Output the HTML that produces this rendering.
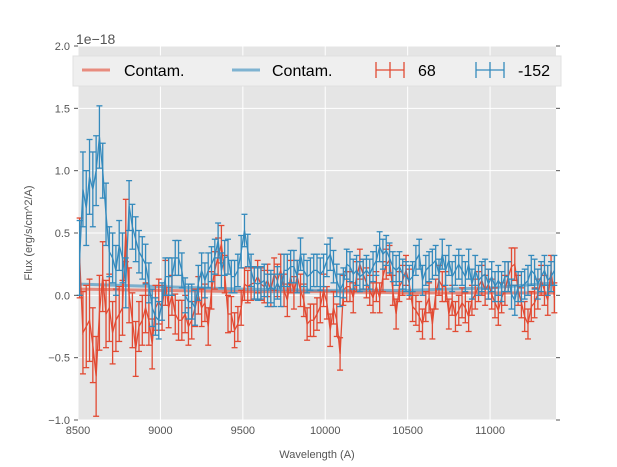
<!DOCTYPE html>
<html><head><meta charset="utf-8">
<style>
body{margin:0;background:#fff;}
svg{display:block;font-family:"Liberation Sans",sans-serif;}
</style></head>
<body>
<svg id="chart" width="617" height="467" viewBox="0 0 617 467">
  <rect x="78" y="46" width="478" height="374" fill="#e5e5e5"/>
  <g id="grid"></g>
  <g id="series"></g>
  <g id="axes"></g>
  <text x="76" y="44" font-size="14" fill="#555">1e−18</text>
  <text x="317" y="458" font-size="11" fill="#555" text-anchor="middle">Wavelength (A)</text>
  <text transform="translate(32,233) rotate(-90)" font-size="11" fill="#555" text-anchor="middle">Flux (erg/s/cm^2/A)</text>
  <g>
    <rect x="73" y="56" width="488" height="30" fill="#efefef" stroke="#e0e0e0"/>
    <g>
      <line x1="82" y1="70" x2="110" y2="70" stroke="#E24A33" stroke-opacity="0.6" stroke-width="3"/>
      <text x="124" y="76" font-size="16" fill="#000">Contam.</text>
    </g>
    <g>
      <line x1="232" y1="70" x2="260" y2="70" stroke="#348ABD" stroke-opacity="0.6" stroke-width="3"/>
      <text x="272" y="76" font-size="16" fill="#000">Contam.</text>
    </g>
    <g stroke="#E24A33" stroke-width="1.3">
      <line x1="376" y1="70" x2="404" y2="70"/><line x1="390" y1="62" x2="390" y2="78"/>
      <line x1="376" y1="62" x2="376" y2="78"/><line x1="404" y1="62" x2="404" y2="78"/>
      <text x="418" y="76" font-size="16" fill="#000" stroke="none">68</text>
    </g>
    <g stroke="#348ABD" stroke-width="1.3">
      <line x1="476" y1="70" x2="504" y2="70"/><line x1="490" y1="62" x2="490" y2="78"/>
      <line x1="476" y1="62" x2="476" y2="78"/><line x1="504" y1="62" x2="504" y2="78"/>
      <text x="518" y="76" font-size="16" fill="#000" stroke="none">-152</text>
    </g>
  </g>
</svg>
<script>
const xTicks=[8500,9000,9500,10000,10500,11000];
const yTicks=[-1.0,-0.5,0.0,0.5,1.0,1.5,2.0];
const yTickLabels=["−1.0","−0.5","0.0","0.5","1.0","1.5","2.0"];
const wlStart=8510, wlStep=20;
const flux68=[0.3,-0.3,-0.25,-0.2,-0.4,-0.65,-0.14,0.15,-0.15,-0.1,-0.3,-0.2,-0.15,-0.1,0.52,0.0,-0.2,-0.43,-0.25,-0.2,-0.1,-0.2,-0.39,-0.1,-0.05,-0.1,0.1,-0.1,0.0,-0.15,-0.2,-0.2,-0.15,-0.25,-0.2,-0.1,0.0,-0.1,
-0.06,-0.25,0.04,0.2,0.31,0.41,0.17,-0.15,-0.15,-0.28,-0.23,-0.1,0.09,0.07,0.09,0.1,0.15,0.09,0.07,0.12,0.04,0.17,0.12,0.2,0.04,-0.04,0.15,0.02,0.15,0.04,-0.04,-0.23,-0.2,-0.2,-0.15,-0.09,0.04,-0.06,-0.28,-0.1,
-0.2,-0.47,0.04,0.07,0.07,-0.02,0.15,0.25,0.17,0.1,0.04,-0.02,0.07,-0.02,0.15,0.25,0.28,0.04,-0.15,0.07,0.12,0.2,0.09,-0.09,-0.12,-0.17,-0.23,-0.09,-0.02,-0.23,0.01,0.12,0.07,0.07,-0.15,-0.04,-0.17,-0.12,-0.06,-0.1,
-0.17,-0.04,0.01,0.07,0.12,0.04,0.09,0.01,-0.06,-0.12,-0.02,0.04,0.15,0.23,0.25,0.04,-0.06,-0.17,-0.23,-0.09,-0.06,0.01,0.12,0.04,-0.04,0.2,-0.02];
const err68=[0.32,0.33,0.33,0.33,0.3,0.32,0.3,0.28,0.27,0.27,0.25,0.25,0.22,0.22,0.25,0.22,0.22,0.22,0.2,0.2,0.2,0.2,0.2,0.18,0.18,0.18,0.18,0.16,0.16,0.16,0.16,0.16,0.15,0.15,0.15,0.15,0.15,0.15,
0.15,0.15,0.15,0.15,0.15,0.15,0.15,0.15,0.14,0.14,0.14,0.14,0.13,0.13,0.13,0.13,0.13,0.13,0.13,0.13,0.13,0.13,0.13,0.13,0.13,0.13,0.13,0.13,0.13,0.13,0.13,0.13,0.13,0.13,0.13,0.13,0.13,0.13,0.13,0.13,
0.13,0.13,0.12,0.12,0.12,0.12,0.12,0.12,0.12,0.12,0.12,0.12,0.12,0.12,0.12,0.12,0.12,0.12,0.12,0.12,0.12,0.12,0.12,0.12,0.12,0.12,0.12,0.12,0.12,0.12,0.12,0.12,0.12,0.12,0.12,0.12,0.12,0.12,0.12,0.12,
0.12,0.12,0.12,0.12,0.12,0.12,0.12,0.12,0.12,0.12,0.12,0.12,0.12,0.15,0.13,0.12,0.12,0.12,0.12,0.12,0.12,0.12,0.12,0.12,0.12,0.12,0.12];
const flux152=[0.3,0.85,0.7,0.95,0.85,1.0,1.27,1.0,0.65,0.35,0.3,0.2,0.4,0.3,0.1,0.72,0.55,0.45,0.35,0.3,0.25,0.1,-0.1,-0.17,-0.2,-0.05,0.15,0.15,0.15,0.3,0.3,0.2,0.0,-0.05,-0.05,-0.1,0.1,0.2,
0.12,0.2,0.25,0.31,0.44,0.2,0.3,0.31,0.15,0.15,0.2,0.35,0.52,0.36,0.2,0.1,0.09,0.1,0.12,0.04,0.07,0.04,0.1,0.04,0.2,0.2,0.23,0.23,0.15,0.33,0.2,0.15,0.17,0.2,0.2,0.17,0.2,0.28,0.33,0.23,
0.12,0.04,0.1,0.25,0.23,0.17,0.2,0.15,0.17,0.2,0.17,0.23,0.28,0.39,0.33,0.36,0.3,0.23,0.2,0.23,0.17,0.15,0.12,0.15,0.28,0.33,0.12,0.2,0.23,0.25,0.28,0.17,0.33,0.2,0.28,0.15,0.2,0.25,0.2,0.15,
0.25,0.09,0.2,0.12,0.15,0.17,0.09,0.15,0.07,0.12,0.07,0.15,0.15,0.01,-0.04,0.07,0.07,0.09,0.12,0.2,0.17,0.09,0.15,0.2,0.12,0.15,0.2];
const err152=[0.3,0.3,0.3,0.3,0.3,0.28,0.25,0.22,0.25,0.2,0.2,0.2,0.2,0.2,0.2,0.2,0.18,0.18,0.17,0.17,0.16,0.16,0.15,0.15,0.15,0.15,0.15,0.15,0.15,0.14,0.14,0.14,0.14,0.14,0.14,0.14,0.14,0.14,
0.14,0.14,0.14,0.14,0.14,0.14,0.14,0.14,0.13,0.13,0.13,0.13,0.13,0.13,0.13,0.13,0.13,0.13,0.13,0.13,0.13,0.13,0.13,0.13,0.13,0.13,0.13,0.13,0.13,0.13,0.13,0.13,0.13,0.13,0.13,0.13,0.13,0.13,0.13,0.13,
0.13,0.13,0.12,0.12,0.12,0.12,0.12,0.12,0.12,0.12,0.12,0.12,0.12,0.12,0.12,0.12,0.12,0.12,0.12,0.12,0.12,0.12,0.12,0.12,0.12,0.12,0.12,0.12,0.12,0.12,0.12,0.12,0.12,0.12,0.12,0.12,0.12,0.12,0.12,0.12,
0.12,0.12,0.12,0.12,0.12,0.12,0.12,0.12,0.12,0.12,0.12,0.12,0.12,0.12,0.12,0.12,0.12,0.12,0.12,0.12,0.12,0.12,0.12,0.12,0.12,0.12,0.12];
const contamWl=[8510,9000,9500,10000,10500,11000,11390];
const contam68=[0.05,0.04,0.03,0.03,0.02,0.02,0.02];
const contam152=[0.09,0.07,0.05,0.04,0.04,0.06,0.1];

const NS="http://www.w3.org/2000/svg";
const X0=78,X1=556,Y0=46,Y1=420,xmin=8500,xmax=11400,ymin=-1,ymax=2;
const xs=v=>X0+(v-xmin)/(xmax-xmin)*(X1-X0);
const ys=v=>Y1-(v-ymin)/(ymax-ymin)*(Y1-Y0);
function mk(tag,attrs,parent){const e=document.createElementNS(NS,tag);for(const k in attrs)e.setAttribute(k,attrs[k]);parent.appendChild(e);return e;}
const grid=document.getElementById('grid'),axes=document.getElementById('axes'),ser=document.getElementById('series');
xTicks.forEach(t=>{
  const g=mk('line',{x1:xs(t),x2:xs(t),y1:Y0,y2:Y1,stroke:'#fff','stroke-width':1},grid);
  
  
  const l=mk('text',{x:xs(t),y:Y1+14,'font-size':11,fill:'#555','text-anchor':'middle'},axes);
  l.textContent=t;
  
  
});
yTicks.forEach((t,i)=>{
  const g=mk('line',{x1:X0,x2:X1,y1:ys(t),y2:ys(t),stroke:'#fff','stroke-width':1},grid);
  
  
  mk('line',{x1:X0-4,x2:X0,y1:ys(t),y2:ys(t),stroke:'#555'},axes);
  mk('line',{x1:X1,x2:X1+4,y1:ys(t),y2:ys(t),stroke:'#555'},axes);
  const l=mk('text',{x:X0-8,y:ys(t)+4,'font-size':11,fill:'#555','text-anchor':'end'},axes);
  l.textContent=yTickLabels[i];
  
  
});
function contam(vals,color,name){
  const pts=contamWl.map((w,i)=>xs(w)+','+ys(vals[i])).join(' ');
  const p=mk('polyline',{points:pts,fill:'none',stroke:color,'stroke-opacity':0.6,'stroke-width':3},ser);
  
  
}
function errSeries(vals,errs,color,name){
  const g=mk('g',{stroke:color,'stroke-width':1.3,fill:'none'},ser);
  
  
  vals.forEach((v,i)=>{
    const x=xs(wlStart+i*wlStep),e=errs[i];
    mk('line',{x1:x,x2:x,y1:ys(v-e),y2:ys(v+e)},g);
    mk('line',{x1:x-3,x2:x+3,y1:ys(v-e),y2:ys(v-e)},g);
    mk('line',{x1:x-3,x2:x+3,y1:ys(v+e),y2:ys(v+e)},g);
  });
  const pts=vals.map((v,i)=>xs(wlStart+i*wlStep)+','+ys(v)).join(' ');
  const p=mk('polyline',{points:pts},g);
  
  
}
contam(contam68,'#E24A33','contam-68-line');
contam(contam152,'#348ABD','contam-152-line');
errSeries(flux68,err68,'#E24A33','series-68');
errSeries(flux152,err152,'#348ABD','series-152');
</script>
</body></html>
